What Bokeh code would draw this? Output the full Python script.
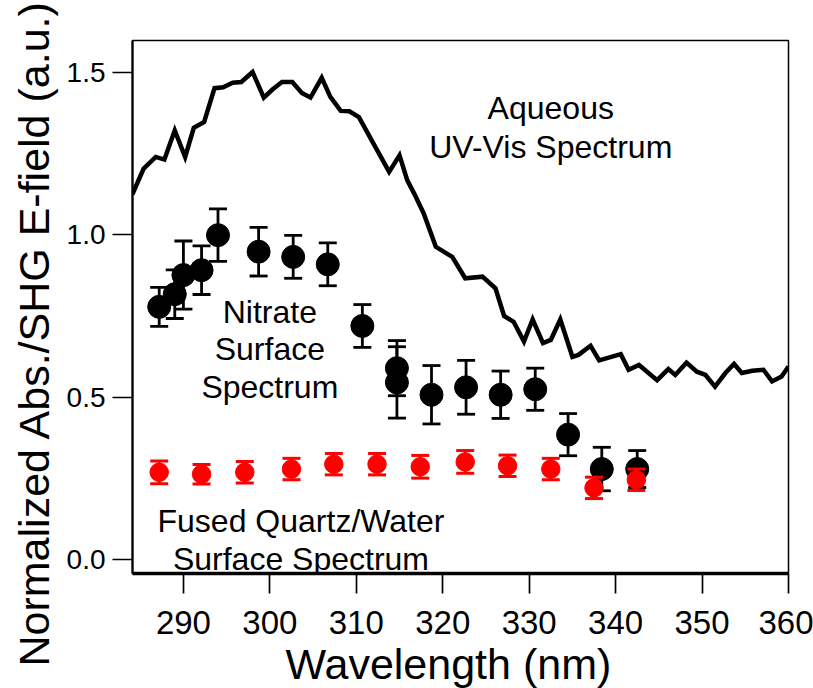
from bokeh.plotting import figure
from bokeh.models import Range1d, FixedTicker, Label, PrintfTickFormatter, Title
from bokeh.embed import file_html
from bokeh.resources import INLINE

# Aqueous UV-Vis spectrum (normalized absorbance)
uv_wavelength = [284.1, 285.4, 286.8, 287.8, 289.0, 290.2, 291.2, 292.4, 293.6, 294.6,
                 295.7, 296.7, 298.0, 299.3, 300.3, 301.4, 302.6, 303.7, 304.7, 306.0,
                 307.0, 308.2, 309.2, 310.3, 312.2, 313.8, 315.0, 315.9, 316.7, 317.8,
                 319.2, 321.1, 322.6, 324.6, 326.1, 327.1, 328.2, 329.4, 330.4, 331.6,
                 332.5, 333.6, 335.0, 335.7, 337.1, 338.1, 340.6, 341.5, 342.7, 344.8,
                 346.1, 346.9, 348.2, 349.4, 350.4, 351.5, 352.7, 353.7, 354.6, 355.8,
                 357.1, 358.1, 359.2, 360.0]
uv_absorbance = [1.125, 1.204, 1.240, 1.232, 1.322, 1.240, 1.330, 1.348, 1.452, 1.455,
                 1.469, 1.471, 1.502, 1.423, 1.448, 1.471, 1.471, 1.437, 1.423, 1.484,
                 1.425, 1.382, 1.381, 1.363, 1.271, 1.194, 1.245, 1.168, 1.127, 1.066,
                 0.963, 0.932, 0.866, 0.871, 0.835, 0.750, 0.732, 0.671, 0.739, 0.666,
                 0.676, 0.739, 0.624, 0.630, 0.658, 0.613, 0.632, 0.584, 0.599, 0.552,
                 0.586, 0.568, 0.606, 0.578, 0.568, 0.532, 0.574, 0.602, 0.574, 0.581,
                 0.584, 0.548, 0.563, 0.594]

# Nitrate surface spectrum (SHG E-field)
nitrate_wavelength = [287.2, 289.0, 290.0, 292.1, 294.0, 298.7, 302.7, 306.7, 310.7,
                      314.7, 314.7, 318.7, 322.7, 326.7, 330.7, 334.5, 338.4, 342.5]
nitrate_efield = [0.778, 0.817, 0.876, 0.891, 0.999, 0.948, 0.932, 0.909, 0.719,
                  0.589, 0.545, 0.507, 0.530, 0.507, 0.524, 0.384, 0.278, 0.278]
nitrate_error = [0.060, 0.075, 0.105, 0.075, 0.081, 0.075, 0.066, 0.066, 0.066,
                 0.085, 0.110, 0.090, 0.083, 0.073, 0.065, 0.065, 0.067, 0.057]

# Fused quartz / water surface spectrum
quartz_wavelength = [287.2, 292.1, 297.1, 302.5, 307.4, 312.4, 317.4, 322.6, 327.5,
                     332.5, 337.5, 342.4]
quartz_efield = [0.268, 0.262, 0.268, 0.278, 0.293, 0.293, 0.285, 0.300, 0.288,
                 0.278, 0.220, 0.245]
quartz_error = [0.035, 0.030, 0.033, 0.033, 0.033, 0.033, 0.035, 0.035, 0.033,
                0.033, 0.033, 0.033]

x_ticks = [290, 300, 310, 320, 330, 340, 350, 360]
y_ticks = [0.0, 0.5, 1.0, 1.5]

FONT = "Liberation Sans"

p = figure(width=813, height=688, output_backend="svg", toolbar_location=None,
           x_range=Range1d(284.11, 360.0), y_range=Range1d(-0.044, 1.599),
           min_border_left=132, min_border_right=25, min_border_top=40,
           min_border_bottom=114)
p.background_fill_color = "white"
p.border_fill_color = "white"
p.outline_line_color = "black"
p.outline_line_width = 1.5
p.grid.visible = False

xa = p.xaxis[0]
xa.ticker = FixedTicker(ticks=x_ticks)
xa.axis_line_width = 3.3
xa.major_tick_out = 20
xa.major_tick_in = 0
xa.major_tick_line_width = 1.7
xa.minor_tick_line_color = None
xa.major_label_text_font = FONT
xa.major_label_text_font_size = "33px"
xa.major_label_text_color = "black"
xa.major_label_standoff = 17

ya = p.yaxis[0]
ya.ticker = FixedTicker(ticks=y_ticks)
ya.formatter = PrintfTickFormatter(format="%.1f")
ya.axis_line_width = 2.2
ya.major_tick_out = 20
ya.major_tick_in = 0
ya.major_tick_line_width = 1.7
ya.minor_tick_line_color = None
ya.major_label_text_font = FONT
ya.major_label_text_font_size = "28px"
ya.major_label_text_color = "black"
ya.major_label_standoff = 7

# Axis titles as side titles so they can be shifted along their axes
p.add_layout(Title(text="Normalized Abs./SHG E-field (a.u.)", align="left", offset=-93,
                   text_font=FONT, text_font_size="43px", text_font_style="normal",
                   text_color="black", standoff=11), "left")
p.add_layout(Title(text="Wavelength (nm)", align="left", offset=153,
                   text_font=FONT, text_font_size="43px", text_font_style="normal",
                   text_color="black", standoff=2), "below")

# UV-Vis line
p.line(uv_wavelength, uv_absorbance, line_color="black", line_width=4.5, line_join="miter")

# Nitrate points with error bars
n_lo = [v - e for v, e in zip(nitrate_efield, nitrate_error)]
n_hi = [v + e for v, e in zip(nitrate_efield, nitrate_error)]
p.segment(nitrate_wavelength, n_lo, nitrate_wavelength, n_hi, line_color="black", line_width=2.8)
p.scatter(nitrate_wavelength, n_lo, marker="dash", size=18, line_color="black", line_width=2.8)
p.scatter(nitrate_wavelength, n_hi, marker="dash", size=18, line_color="black", line_width=2.8)
p.scatter(nitrate_wavelength, nitrate_efield, marker="circle", size=23,
          fill_color="black", line_color="black")

# Quartz/water points with error bars
q_lo = [v - e for v, e in zip(quartz_efield, quartz_error)]
q_hi = [v + e for v, e in zip(quartz_efield, quartz_error)]
p.segment(quartz_wavelength, q_lo, quartz_wavelength, q_hi, line_color="red", line_width=2.8)
p.scatter(quartz_wavelength, q_lo, marker="dash", size=18, line_color="red", line_width=3)
p.scatter(quartz_wavelength, q_hi, marker="dash", size=18, line_color="red", line_width=3)
p.scatter(quartz_wavelength, quartz_efield, marker="circle", size=18.5,
          fill_color="red", line_color="red")

labels = [
    ("Aqueous", 332.5, 1.390),
    ("UV-Vis Spectrum", 332.5, 1.270),
    ("Nitrate", 300.0, 0.763),
    ("Surface", 300.0, 0.648),
    ("Spectrum", 300.0, 0.532),
    ("Fused Quartz/Water", 303.6, 0.119),
    ("Surface Spectrum", 303.6, 0.002),
]
for txt, lx, ly in labels:
    p.add_layout(Label(x=lx, y=ly, text=txt, text_font=FONT, text_font_size="32px",
                       text_align="center", text_baseline="alphabetic", text_color="black"))

open("out.html", "w").write(file_html(p, INLINE))
